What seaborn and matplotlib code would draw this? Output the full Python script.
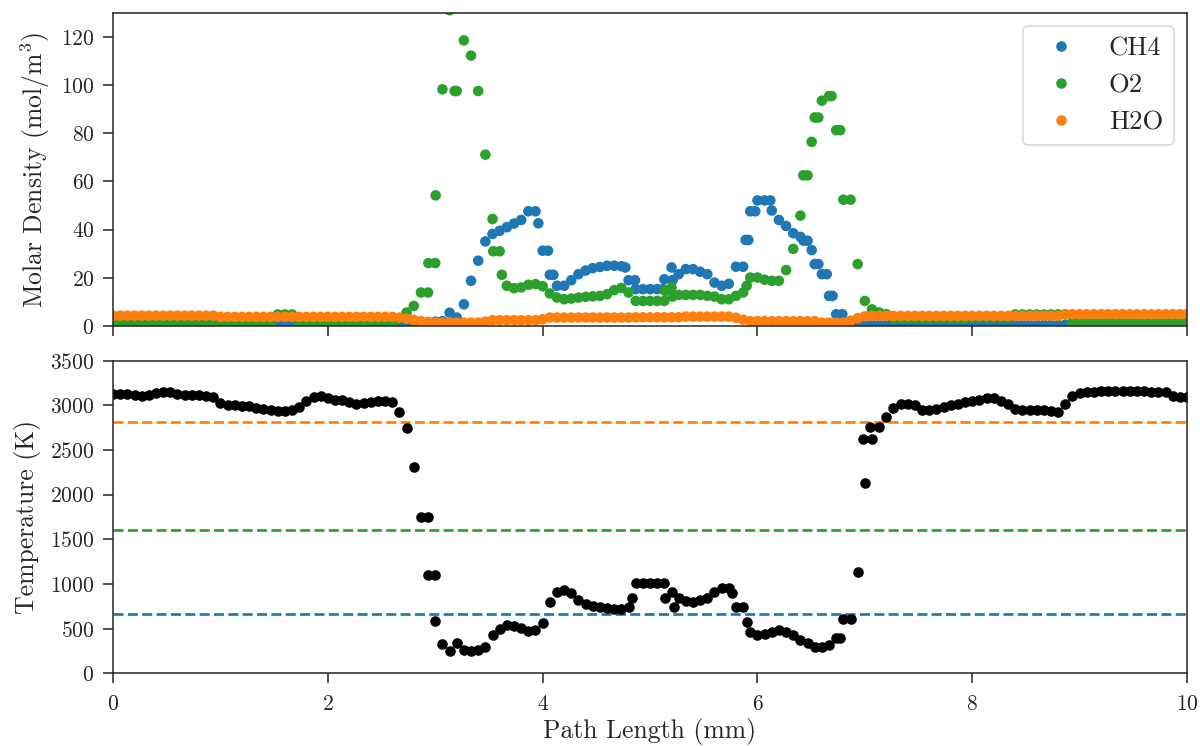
import numpy as np
import pandas as pd
import matplotlib
matplotlib.use("Agg")
import matplotlib.pyplot as plt
import seaborn as sns

# ---------------- data ----------------
path_mm = np.linspace(0, 10, 151)   # path-length sampling grid (mm)

ch4 = [0.3, 0.3, 0.3, 0.3, 0.3, 0.3, 0.3, 0.3, 0.3, 0.3, 0.3, 0.3, 0.3, 0.3, 0.3,
       0.6, 0.6, 0.6, 0.6, 0.6, 0.6, 0.6, 0.6, 0.6, 0.6, 0.6,
       0.4, 0.4, 0.4, 0.4, 0.4, 0.4, 0.4,
       0.7, 0.7, 0.7, 0.7, 0.7, 0.7, 0.7,
       0.8, 1.0, 1.2, 1.4, 1.6, 1.8, 2.0, 5.5, 3.5, 9.0,
       18.75, 27.1, 35.1, 38.2, 39.5, 41.0, 42.5, 44.0, 47.6, 47.6,
       31.25, 21.25, 16.7, 16.7, 19.0, 21.5, 23.0, 24.0, 24.5, 25.0,
       25.0, 24.8, 19.0, 15.3, 15.3, 15.3, 15.3, 19.4, 24.3, 21.5,
       23.6, 23.6, 22.5, 21.5, 18.0, 16.7, 17.5, 24.6, 24.6, 47.6,
       52.1, 52.1, 47.9, 44.0, 41.5, 38.5, 37.0, 35.4, 25.7, 21.5,
       12.5, 4.9, 1.0,
       0.5, 0.5, 0.5, 0.5, 0.5, 0.5, 0.5, 0.5, 0.5, 0.5, 0.5, 0.5, 0.5, 0.5, 0.5, 0.5,
       0.5, 0.5, 0.5, 0.5, 0.5, 0.5, 0.5, 0.5, 0.5, 0.5, 0.5, 0.5, 0.5, 0.5, 0.5,
       0.2, 0.2, 0.2, 0.2, 0.2, 0.2, 0.2, 0.2, 0.2, 0.2, 0.2, 0.2, 0.2, 0.2, 0.2, 0.2, 0.2]

o2 = [1.3, 1.3, 1.3, 1.3, 1.3, 1.3, 1.3, 1.3, 1.3, 1.3, 1.3, 1.3, 1.3, 1.3, 1.3,
      1.3, 1.3, 1.3, 1.3, 1.3, 1.3, 1.3, 1.3,
      4.8, 4.8, 4.8,
      1.3, 1.3, 1.3, 1.3, 1.3, 1.3, 1.3, 1.3, 1.3, 1.3, 1.3, 1.3, 1.3, 1.3,
      3.0, 5.6, 8.3, 13.9, 13.9, 26.1, 98.2, 131.0, 97.5, 118.5,
      112.2, 97.5, 71.1, 44.4, 31.0, 16.7, 15.7, 16.0, 17.1, 17.4,
      16.5, 13.5, 11.8, 11.1, 11.4, 11.8, 12.1, 12.3, 12.5, 13.2,
      14.9, 15.8, 13.9, 10.4, 10.4, 10.4, 10.4, 10.4, 16.0, 12.9,
      12.9, 12.9, 12.9, 12.5, 12.2, 11.1, 11.1, 12.5, 13.9, 20.1,
      20.1, 19.2, 18.75, 18.75, 23.2, 32.0, 45.8, 62.5, 86.5, 93.5,
      95.4, 81.25, 52.4, 52.4, 25.7, 10.4, 6.9, 5.6, 4.9,
      3.0, 3.0, 3.0, 3.0, 3.0, 3.0, 3.0, 3.0, 3.0, 3.0, 3.0,
      3.5, 3.5, 3.5, 3.5, 3.5, 3.5,
      4.8, 4.8, 4.8, 4.8, 4.8, 4.8, 4.8, 4.8,
      1.4, 1.4, 1.4, 1.4, 1.4, 1.4, 1.4, 1.4, 1.4, 1.4, 1.4, 1.4, 1.4, 1.4, 1.4, 1.4, 1.4]

h2o = [4.3, 4.3, 4.3, 4.3, 4.3, 4.3, 4.3, 4.3, 4.3, 4.3, 4.3, 4.3, 4.3, 4.3, 4.3,
       3.8, 3.8, 3.8, 3.8, 3.8, 3.8, 3.8, 3.8, 3.8, 3.8, 3.8, 3.8, 3.8,
       3.8, 3.8, 3.8, 3.8, 3.8, 3.8, 3.8, 3.8, 3.8, 3.8, 3.8, 3.8,
       3.5, 3.0, 2.5, 2.0, 1.6,
       1.4, 1.4, 1.4, 1.4, 1.4, 1.4, 1.4,
       1.8,
       2.4, 2.4, 2.4, 2.4, 2.4, 2.4, 2.4,
       2.8,
       3.5, 3.5, 3.5, 3.5, 3.5, 3.5, 3.5, 3.5, 3.5, 3.5, 3.5, 3.5,
       3.6, 3.6, 3.6, 3.6, 3.6, 3.6, 3.6,
       3.9, 3.9, 3.9, 3.9, 3.9, 3.9, 3.9,
       3.4, 2.6,
       2.0, 2.0, 2.0, 2.0, 2.0, 2.0, 2.0, 2.0, 2.0, 2.0,
       1.4, 1.4, 1.4, 1.4,
       2.2, 3.2, 4.0,
       4.2, 4.2, 4.2, 4.2, 4.2, 4.2, 4.2, 4.2, 4.2, 4.2, 4.2, 4.2, 4.2, 4.2,
       4.2, 4.2, 4.2, 4.2, 4.2, 4.2, 4.2, 4.2, 4.2, 4.2, 4.2, 4.2, 4.2,
       4.9, 4.9, 4.9, 4.9, 4.9, 4.9, 4.9, 4.9, 4.9, 4.9, 4.9, 4.9, 4.9, 4.9,
       4.9, 4.9, 4.9, 4.9]

temperature = [3126, 3131, 3130, 3115, 3100, 3118, 3140, 3150, 3148, 3130,
               3120, 3115, 3112, 3106, 3090, 3025, 3003, 3002, 2998, 2990,
               2975, 2960, 2945, 2936, 2938, 2948, 2985, 3050, 3090, 3100,
               3085, 3065, 3055, 3035, 3020, 3025, 3040, 3046, 3048, 3040,
               2928, 2742, 2313, 1746, 1746, 1100, 328, 253, 336, 261,
               245, 258, 298, 429, 500, 535, 530, 510, 470, 485,
               560, 800, 915, 935, 900, 825, 770, 750, 742, 728,
               715, 715, 745, 1014, 1014, 1014, 1014, 1014, 913, 839,
               810, 802, 820, 845, 905, 951, 951, 745, 745, 466,
               430, 445, 460, 480, 466, 429, 373, 336, 298, 295,
               315, 392, 604, 604, 1137, 2127, 2623, 2760, 2875, 2966,
               3010, 3012, 3000, 2950, 2945, 2955, 2985, 3005, 3020, 3035,
               3050, 3062, 3078, 3080, 3050, 3015, 2960, 2948, 2945, 2950,
               2952, 2935, 2920, 3020, 3110, 3135, 3150, 3155, 3158, 3160,
               3162, 3165, 3163, 3160, 3158, 3155, 3155, 3150, 3110, 3092,
               3088]

# additional samples that share (nearly) the same path length as a grid sample
ch4_extra_x = [3.96, 4.05, 4.10, 4.77, 4.86, 5.12, 5.21, 5.89, 5.915, 5.98,
               6.12, 6.43, 6.505, 6.567, 6.645, 6.70, 6.79]
ch4_extra = [42.6, 31.25, 21.25, 24.3, 19.0, 15.3, 19.0, 35.7, 35.7, 47.6,
             52.1, 35.4, 31.5, 25.7, 21.5, 12.5, 4.9]
o2_extra_x = [2.936, 3.004, 3.18, 3.54, 3.62, 5.14, 5.21, 5.90, 6.427, 6.505,
              6.567, 6.69, 6.77]
o2_extra = [26.1, 54.2, 97.5, 31.0, 21.25, 14.6, 12.2, 16.7, 62.5, 76.4,
            86.5, 95.4, 81.25]
temp_extra_x = [2.933, 3.0, 4.835, 5.14, 5.22, 5.76, 5.90, 6.77, 6.98, 7.05]
temp_extra = [1100, 585, 839, 839, 745, 895, 578, 392, 2623, 2760]

species = ["CH4", "O2", "H2O"]
species_colors = ["#1f77b4", "#2ca02c", "#ff7f0e"]
threshold_temps = [660, 1600, 2810]          # CH4, O2, H2O reference temperatures
threshold_colors = ["#1f77b4", "#2ca02c", "#ff7f0e"]

# ---------------- style ----------------
sns.set_style("ticks")
plt.rcParams.update({
    "font.family": ["cmr10", "DejaVu Serif"],
    "mathtext.fontset": "cm",
    "axes.formatter.use_mathtext": True,
    "axes.edgecolor": "0.15",
    "axes.linewidth": 1.1,
    "xtick.color": "0.15",
    "ytick.color": "0.15",
})

# ---------------- tidy tables ----------------
frames = []
for name, vals, ex_x, ex_v in [("CH4", ch4, ch4_extra_x, ch4_extra),
                               ("O2", o2, o2_extra_x, o2_extra),
                               ("H2O", h2o, [], [])]:
    frames.append(pd.DataFrame({
        "path": np.concatenate([path_mm, np.asarray(ex_x, float)]),
        "density": np.concatenate([np.asarray(vals, float), np.asarray(ex_v, float)]),
        "species": name,
    }))
density = pd.concat(frames, ignore_index=True)

temps = pd.DataFrame({
    "path": np.concatenate([path_mm, np.asarray(temp_extra_x, float)]),
    "T": np.concatenate([np.asarray(temperature, float), np.asarray(temp_extra, float)]),
})

# ---------------- figure ----------------
fig = plt.figure(figsize=(12, 7.46), dpi=100)
ax1 = fig.add_axes([0.0942, 0.5630, 0.8950, 0.4200])
ax2 = fig.add_axes([0.0942, 0.0975, 0.8950, 0.4190], sharex=ax1)

sns.scatterplot(data=density, x="path", y="density", hue="species",
                hue_order=species, palette=species_colors, s=58,
                linewidth=0, ax=ax1, zorder=2)
ax1.set_xlim(0, 10)
ax1.set_ylim(0, 130)
ax1.set_yticks(np.arange(0, 121, 20))
ax1.set_xlabel("")
ax1.set_ylabel("Molar Density (mol/m$^3$)", fontsize=18.5, labelpad=6.5)
ax1.tick_params(labelbottom=False)
sns.move_legend(ax1, "upper right", title=None, fontsize=19.2, frameon=True,
                borderaxespad=0.5, handletextpad=0.8)
leg = ax1.get_legend()
leg.get_frame().set_edgecolor("0.8")
leg.get_frame().set_linewidth(1.1)

for t, c in zip(threshold_temps, threshold_colors):
    ax2.axhline(t, color=c, linestyle="--", linewidth=1.95, zorder=1)
sns.scatterplot(data=temps, x="path", y="T", color="black", s=58,
                linewidth=0, ax=ax2, zorder=2)
ax2.set_ylim(0, 3500)
ax2.set_yticks(np.arange(0, 3501, 500))
ax2.set_xticks(np.arange(0, 11, 2))
ax2.set_xlabel("Path Length (mm)", fontsize=18.5, labelpad=3.5)
ax2.set_ylabel("Temperature (K)", fontsize=18.5, labelpad=6.5)

for ax in (ax1, ax2):
    ax.tick_params(labelsize=15.5, length=7, width=1.1)
    ax.tick_params(axis="y", pad=6.5)
    ax.tick_params(axis="x", pad=8)
    for sp in ax.spines.values():
        sp.set_visible(True)
        sp.set_linewidth(1.1)

fig.savefig("out.png", dpi=100)
